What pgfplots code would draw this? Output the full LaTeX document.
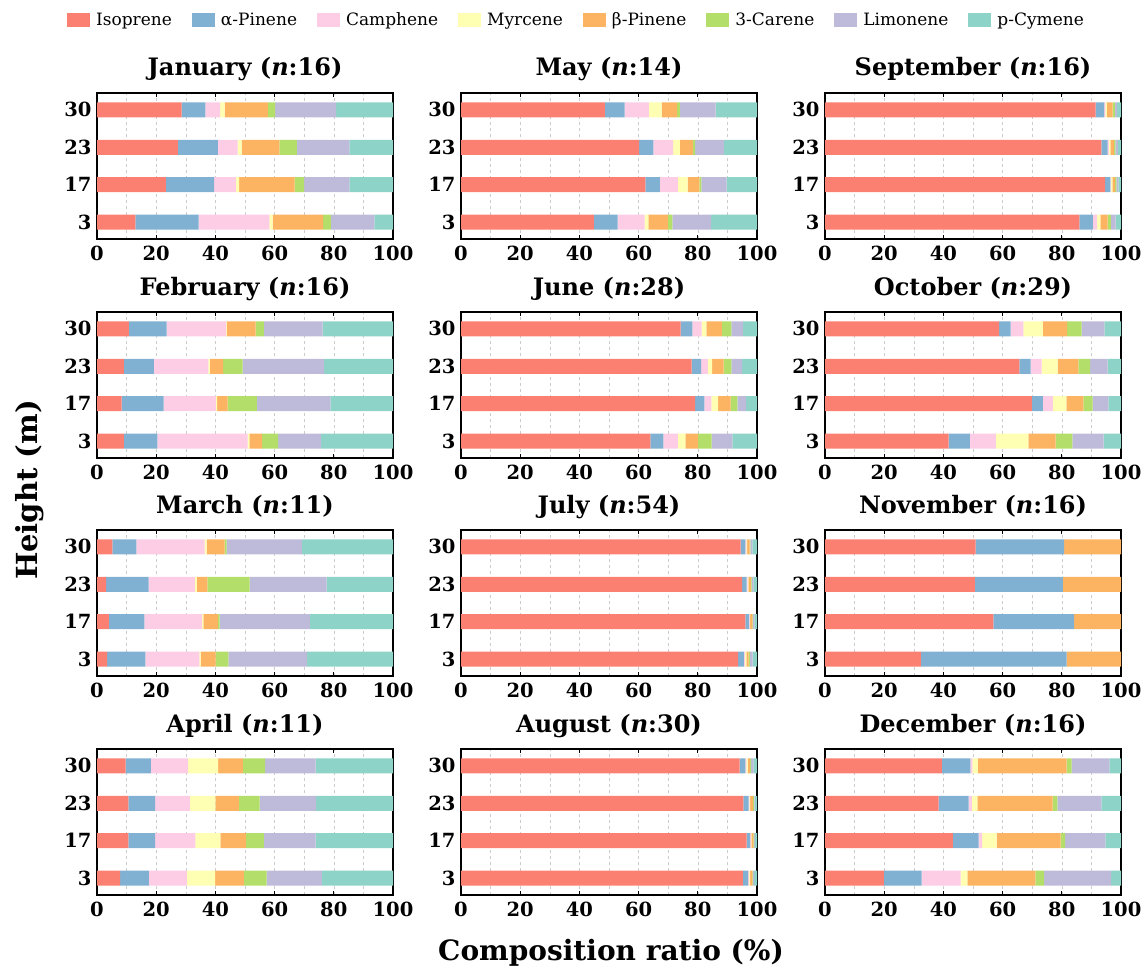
\documentclass[border=0pt]{standalone}
\usepackage{fontspec}
\setmainfont{DejaVu Serif}
\newfontfamily\legfont{DejaVu Serif}
\usepackage{pgfplots}
\usepackage{pgfplotstable}
\pgfplotsset{compat=1.18}
\definecolor{cIso}{HTML}{FB8072}
\definecolor{cAP}{HTML}{80B1D3}
\definecolor{cCam}{HTML}{FCCDE5}
\definecolor{cMyr}{HTML}{FFFFB3}
\definecolor{cBP}{HTML}{FDB462}
\definecolor{cCar}{HTML}{B3DE69}
\definecolor{cLim}{HTML}{BEBADA}
\definecolor{cPC}{HTML}{8DD3C7}

\pgfplotstableread{
h Iso aP Cam Myr bP Car Lim pC
0 13.0 21.3 23.9 1.1 17.1 2.6 14.7 6.3
1 23.3 16.3 7.3 1.1 18.8 3.2 15.3 14.7
2 27.3 13.5 6.7 1.4 12.7 5.9 17.8 14.7
3 28.6 8.0 5.0 1.5 14.6 2.5 20.6 19.2
}\tJan
\pgfplotstableread{
h Iso aP Cam Myr bP Car Lim pC
0 9.1 11.3 30.5 0.6 4.3 5.4 14.5 24.3
1 8.3 14.2 17.7 0.4 3.5 9.9 24.8 21.2
2 9.1 10.1 18.4 0.5 4.5 6.6 27.5 23.3
3 10.8 12.7 20.1 0.2 9.8 2.8 19.8 23.8
}\tFeb
\pgfplotstableread{
h Iso aP Cam Myr bP Car Lim pC
0 3.4 12.9 18.3 0.4 5.1 4.3 26.6 29.0
1 4.0 12.0 19.5 0.4 4.9 0.6 30.5 28.1
2 3.1 14.3 15.7 0.6 3.6 14.3 26.0 22.4
3 5.2 8.1 23.1 0.6 6.1 0.7 25.4 30.8
}\tMar
\pgfplotstableread{
h Iso aP Cam Myr bP Car Lim pC
0 7.8 9.7 12.9 9.5 9.7 7.7 18.7 24.0
1 10.6 9.0 13.6 8.5 8.6 6.1 17.5 26.1
2 10.6 9.0 11.8 8.6 7.9 7.0 19.1 26.0
3 9.7 8.5 12.6 10.1 8.4 7.5 17.1 26.1
}\tApr
\pgfplotstableread{
h Iso aP Cam Myr bP Car Lim pC
0 44.9 8.0 9.1 1.3 6.6 1.5 13.1 15.5
1 62.3 4.9 6.1 3.3 3.9 0.7 8.5 10.3
2 60.2 4.8 6.7 2.2 4.4 0.8 9.7 11.2
3 48.6 6.7 8.2 4.3 5.2 0.9 12.1 14.0
}\tMay
\pgfplotstableread{
h Iso aP Cam Myr bP Car Lim pC
0 64.0 4.4 4.9 2.5 4.3 4.6 7.0 8.3
1 79.1 3.1 2.4 2.3 4.2 2.3 2.9 3.7
2 77.9 3.2 2.3 1.4 3.9 2.6 3.7 5.0
3 74.2 4.0 3.1 1.6 5.2 3.2 3.9 4.8
}\tJun
\pgfplotstableread{
h Iso aP Cam Myr bP Car Lim pC
0 93.6 2.0 0.4 0.4 0.8 0.4 0.9 1.5
1 96.1 1.2 0.2 0.2 0.7 0.2 0.5 0.9
2 95.0 1.5 0.3 0.3 0.8 0.3 0.6 1.2
3 94.5 1.6 0.3 0.3 0.8 0.3 0.6 1.6
}\tJul
\pgfplotstableread{
h Iso aP Cam Myr bP Car Lim pC
0 95.2 1.8 0.3 0.4 0.7 0.2 0.4 1.0
1 96.5 1.2 0.2 0.2 0.7 0.2 0.3 0.7
2 95.4 1.8 0.2 0.3 1.0 0.2 0.3 0.8
3 94.1 2.0 0.3 0.4 0.8 0.3 0.9 1.2
}\tAug
\pgfplotstableread{
h Iso aP Cam Myr bP Car Lim pC
0 85.9 4.6 1.4 1.1 2.5 1.1 1.6 1.8
1 94.6 1.8 0.3 0.4 0.9 0.4 0.7 0.9
2 93.4 2.1 0.4 0.5 1.2 0.5 0.8 1.1
3 91.4 2.9 0.4 0.5 2.0 0.7 0.8 1.3
}\tSep
\pgfplotstableread{
h Iso aP Cam Myr bP Car Lim pC
0 41.8 7.1 8.8 11.0 9.2 5.7 10.5 5.9
1 69.9 3.7 3.4 4.5 5.8 3.1 5.3 4.3
2 65.7 3.8 3.7 5.4 7.0 4.0 5.9 4.5
3 58.8 3.9 4.3 6.6 8.2 4.9 7.7 5.6
}\tOct
\pgfplotstableread{
h Iso aP Cam Myr bP Car Lim pC
0 32.4 49.2 0 0 18.4 0 0 0
1 56.9 27.3 0 0 15.8 0 0 0
2 50.6 29.8 0 0 19.6 0 0 0
3 50.9 29.9 0 0 19.2 0 0 0
}\tNov
\pgfplotstableread{
h Iso aP Cam Myr bP Car Lim pC
0 19.9 12.7 13.2 2.3 23.0 2.9 22.7 3.3
1 43.2 8.7 1.2 4.9 21.6 1.5 13.6 5.3
2 38.4 10.1 1.1 1.9 25.4 1.6 14.9 6.6
3 39.5 9.6 0.7 1.8 30.0 1.7 12.8 3.9
}\tDec

\newcommand\bars[1]{%
\addplot[fill=cIso,draw=none] table[x=Iso,y=h]{#1};
\addplot[fill=cAP,draw=none] table[x=aP,y=h]{#1};
\addplot[fill=cCam,draw=none] table[x=Cam,y=h]{#1};
\addplot[fill=cMyr,draw=none] table[x=Myr,y=h]{#1};
\addplot[fill=cBP,draw=none] table[x=bP,y=h]{#1};
\addplot[fill=cCar,draw=none] table[x=Car,y=h]{#1};
\addplot[fill=cLim,draw=none] table[x=Lim,y=h]{#1};
\addplot[fill=cPC,draw=none] table[x=pC,y=h]{#1};
}

\pgfplotsset{panel/.style={
  xbar stacked, scale only axis, width=296pt, height=146pt,
  anchor=north west,
  xmin=0, xmax=100, ymin=-0.45, ymax=3.45,
  ytick={0,1,2,3}, yticklabels={3,17,23,30},
  xtick={0,20,...,100}, minor xtick={10,30,...,90},
  xmajorgrids, xminorgrids,
  major grid style={dashed, gray!40, line width=0.6pt},
  minor grid style={dashed, gray!40, line width=0.6pt},
  bar width=15pt,
  axis line style={line width=1.6pt},
  tick style={black, line width=0.8pt},
  major tick length=4pt, minor tick length=0pt,
  tick align=inside,
  ytick style={draw=none},
  ticklabel style={font=\fontsize{19.5}{21}\selectfont\bfseries},
  yticklabel style={xshift=-2pt},
  xticklabel style={yshift=-3pt},
  /pgf/number format/assume math mode=true,
  title style={font=\fontsize{24}{26}\selectfont\bfseries, at={(0.5,1)}, anchor=base, yshift=11pt},
  legend image code/.code={\fill[##1] (0pt,-7pt) rectangle (23pt,7pt);},
}}

\begin{document}
\begin{tikzpicture}
\useasboundingbox (0,0) rectangle (1142pt,-979pt);
% row 1
\begin{axis}[panel, at={(97pt,-93pt)}, title={January (\textit{n}:16)},
  legend columns=8,
  legend style={font=\legfont\fontsize{17}{19}\selectfont, draw=none, fill=none,
    at={(1.62,1.5)}, anchor=center,
    /tikz/every even column/.append style={column sep=18pt},
    /tikz/every odd column/.append style={column sep=4pt}},
  legend entries={Isoprene,α-Pinene,Camphene,Myrcene,β-Pinene,3-Carene,Limonene,p-Cymene}]
\bars{\tJan}
\end{axis}
\begin{axis}[panel, at={(461pt,-93pt)}, title={May (\textit{n}:14)}]
\bars{\tMay}
\end{axis}
\begin{axis}[panel, at={(825pt,-93pt)}, title={September (\textit{n}:16)}]
\bars{\tSep}
\end{axis}
% row 2
\begin{axis}[panel, at={(97pt,-312pt)}, title={February (\textit{n}:16)}]
\bars{\tFeb}
\end{axis}
\begin{axis}[panel, at={(461pt,-312pt)}, title={June (\textit{n}:28)}]
\bars{\tJun}
\end{axis}
\begin{axis}[panel, at={(825pt,-312pt)}, title={October (\textit{n}:29)}]
\bars{\tOct}
\end{axis}
% row 3
\begin{axis}[panel, at={(97pt,-530pt)}, title={March (\textit{n}:11)}]
\bars{\tMar}
\end{axis}
\begin{axis}[panel, at={(461pt,-530pt)}, title={July (\textit{n}:54)}]
\bars{\tJul}
\end{axis}
\begin{axis}[panel, at={(825pt,-530pt)}, title={November (\textit{n}:16)}]
\bars{\tNov}
\end{axis}
% row 4
\begin{axis}[panel, at={(97pt,-749pt)}, title={April (\textit{n}:11)}]
\bars{\tApr}
\end{axis}
\begin{axis}[panel, at={(461pt,-749pt)}, title={August (\textit{n}:30)}]
\bars{\tAug}
\end{axis}
\begin{axis}[panel, at={(825pt,-749pt)}, title={December (\textit{n}:16)}]
\bars{\tDec}
\end{axis}
\node[font=\fontsize{28}{31}\selectfont\bfseries] at (611pt,-953pt) {Composition ratio (\%)};
\node[font=\fontsize{29}{32}\selectfont\bfseries, rotate=90] at (30pt,-490pt) {Height (m)};
\end{tikzpicture}
\end{document}
